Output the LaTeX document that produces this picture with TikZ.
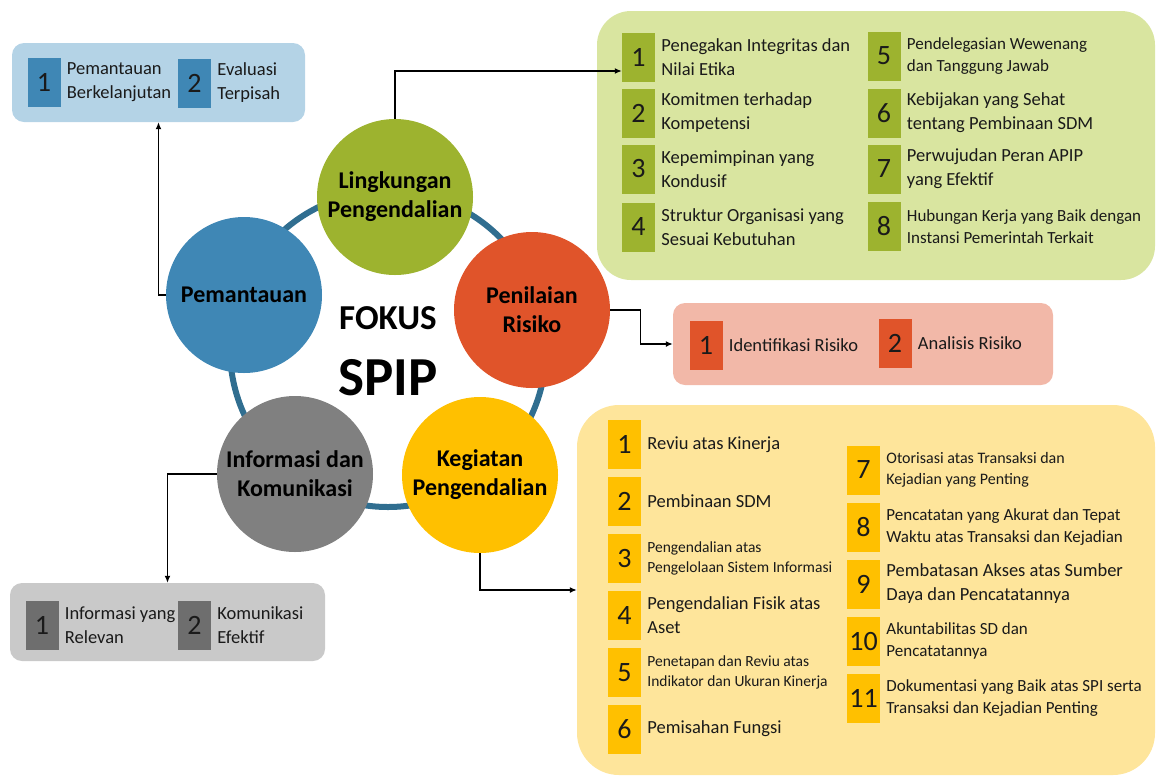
\documentclass[tikz,border=0pt]{standalone}
\usepackage{fontspec}
\setmainfont{Carlito}
\usetikzlibrary{arrows.meta,calc}
\definecolor{ringc}{HTML}{306E90}
\definecolor{greenC}{HTML}{9DB32F}
\definecolor{greenL}{HTML}{D9E5A0}
\definecolor{orangeC}{HTML}{E0542A}
\definecolor{pinkL}{HTML}{F2B8A8}
\definecolor{blueC}{HTML}{3F87B5}
\definecolor{blueL}{HTML}{B4D3E6}
\definecolor{greyC}{HTML}{808080}
\definecolor{greyS}{HTML}{6E6E6E}
\definecolor{greyL}{HTML}{C9C9C9}
\definecolor{goldC}{HTML}{FFC000}
\definecolor{goldL}{HTML}{FEE59B}
\definecolor{txt}{HTML}{1A1A1A}
\newcommand\fsA{\fontsize{18.5}{24}\selectfont}
\newcommand\fsB{\fontsize{15.5}{20}\selectfont}
\newcommand\fsC{\fontsize{17}{22}\selectfont}
\newcommand\fsD{\fontsize{16}{21}\selectfont}
\tikzset{
  bigc/.style={circle, minimum size=156pt, inner sep=0pt, align=center, text=black,
    font=\fontsize{24}{29}\selectfont\bfseries},
  panel/.style={inner sep=0pt, draw=none},
  numsq/.style={minimum width=33pt, minimum height=49pt, inner sep=0pt, text=txt,
    font=\fontsize{28}{30}\selectfont},
  itemtxt/.style={anchor=west, inner sep=0pt, align=left, text=txt},
  conn/.style={-{Latex[length=7pt,width=6pt]}, line width=1.3pt, black},
}
\newcommand\itm[6]{%
  \node[numsq, fill=#3] (#1) at (#2) {#4};
  \node[itemtxt, font=#5] (#1t) at ([xshift=6pt]#1.east) {#6};
}
\begin{document}
\begin{tikzpicture}[x=1pt,y=-1pt]
\useasboundingbox (0,0) rectangle (1158,777);
% panels
\node[panel, fill=blueL, rounded corners=12pt, minimum width=293pt, minimum height=79pt] (bluebox) at (158.5,82.5) {};
\node[panel, fill=greenL, rounded corners=34pt, minimum width=558pt, minimum height=269pt] (greenbox) at (876,145.5) {};
\node[panel, fill=pinkL, rounded corners=12pt, minimum width=380pt, minimum height=82pt] (pinkbox) at (863,344) {};
\node[panel, fill=greyL, rounded corners=12pt, minimum width=315pt, minimum height=78pt] (greybox) at (167.5,622) {};
\node[panel, fill=goldL, rounded corners=42pt, minimum width=578pt, minimum height=370pt] (ybox) at (866,590) {};
% ring and circles
\coordinate (ctr) at (388,349);
\draw[ringc, line width=6pt] (ctr) circle[radius=158pt];
\node[bigc, fill=greenC] (L) at (395,197) {Lingkungan\\Pengendalian};
\node[bigc, fill=orangeC] (P) at (532,310) {Penilaian\\Risiko};
\node[bigc, fill=blueC] (M) at (244,295) {Pemantauan};
\node[bigc, fill=greyC] (I) at (295,474) {Informasi dan\\Komunikasi};
\node[bigc, fill=goldC] (K) at (480,475) {Kegiatan\\Pengendalian};
\node[inner sep=0pt, font=\fontsize{35}{35}\selectfont\bfseries, text=black] (fokus) at (388,318) {FOKUS};
\node[inner sep=0pt, font=\fontsize{55}{55}\selectfont\bfseries, text=black] (spip) at (388,378) {SPIP};
% blue items
\itm{b1}{44,82.5}{blueC}{1}{\fsA}{Pemantauan\\Berkelanjutan}
\itm{b2}{194.5,83}{blueC}{2}{\fsA}{Evaluasi\\Terpisah}
% green items
\itm{g1}{638.5,57}{greenC}{1}{\fsA}{Penegakan Integritas dan\\Nilai Etika}
\itm{g2}{638.5,113}{greenC}{2}{\fsA}{Komitmen terhadap\\Kompetensi}
\itm{g3}{638.5,169}{greenC}{3}{\fsA}{Kepemimpinan yang\\Kondusif}
\itm{g4}{638.5,227}{greenC}{4}{\fsA}{Struktur Organisasi yang\\Sesuai Kebutuhan}
\itm{g5}{884,56}{greenC}{5}{\fsC}{Pendelegasian Wewenang\\dan Tanggung Jawab}
\itm{g6}{884,113}{greenC}{6}{\fsA}{Kebijakan yang Sehat\\tentang Pembinaan SDM}
\itm{g7}{884,169}{greenC}{7}{\fsA}{Perwujudan Peran APIP\\yang Efektif}
\itm{g8}{884,226.5}{greenC}{8}{\fsC}{Hubungan Kerja yang Baik dengan\\Instansi Pemerintah Terkait}
% pink items
\itm{p1}{706,345}{orangeC}{1}{\fsA}{Identifikasi Risiko}
\itm{p2}{895,343}{orangeC}{2}{\fsA}{Analisis Risiko}
% grey items
\itm{i1}{42,625.5}{greyS}{1}{\fsA}{Informasi yang\\Relevan}
\itm{i2}{194.5,625.5}{greyS}{2}{\fsA}{Komunikasi\\Efektif}
% gold items
\itm{y1}{624.5,444.5}{goldC}{1}{\fsA}{Reviu atas Kinerja}
\itm{y2}{624.5,501}{goldC}{2}{\fsA}{Pembinaan SDM}
\itm{y3}{624.5,558}{goldC}{3}{\fsB}{Pengendalian atas\\Pengelolaan Sistem Informasi}
\itm{y4}{624.5,615}{goldC}{4}{\fsA}{Pengendalian Fisik atas\\Aset}
\itm{y5}{624.5,672.5}{goldC}{5}{\fsB}{Penetapan dan Reviu atas\\Indikator dan Ukuran Kinerja}
\itm{y6}{624.5,729}{goldC}{6}{\fsA}{Pemisahan Fungsi}
\itm{y7}{863.5,470}{goldC}{7}{\fsD}{Otorisasi atas Transaksi dan\\Kejadian yang Penting}
\itm{y8}{863.5,527}{goldC}{8}{\fsC}{Pencatatan yang Akurat dan Tepat\\Waktu atas Transaksi dan Kejadian}
\itm{y9}{863.5,584}{goldC}{9}{\fsA}{Pembatasan Akses atas Sumber\\Daya dan Pencatatannya}
\itm{y10}{863.5,641}{goldC}{10}{\fsC}{Akuntabilitas SD dan\\Pencatatannya}
\itm{y11}{863.5,698}{goldC}{11}{\fsC}{Dokumentasi yang Baik atas SPI serta\\Transaksi dan Kejadian Penting}
% connectors
\draw[conn] (L.north) |- ($(g1.west)+(0,14)$);
\draw[conn] (P.east) -- ++(30,0) |- (pinkbox.west);
\draw[conn] (M.west) -| (bluebox.south);
\draw[conn] (I.west) -| (greybox.north);
\draw[conn] (K.south) |- (ybox.west);
\end{tikzpicture}
\end{document}
